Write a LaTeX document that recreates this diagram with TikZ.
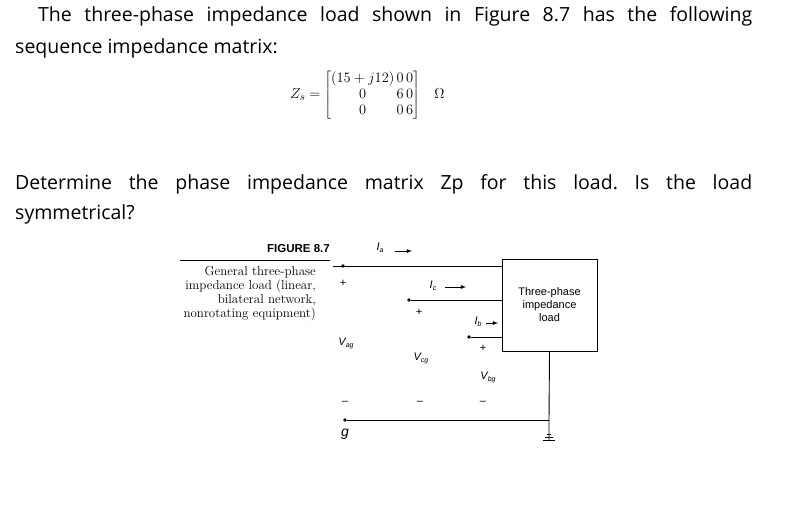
\documentclass[tikz,border=0pt]{standalone}
\usepackage{fontspec}
\setmainfont{Latin Modern Roman}
\newfontfamily\bodyfont{Open Sans}
\newfontfamily\figfont{Liberation Sans}
\newcommand{\sbs}[1]{\raisebox{-0.35ex}{\scriptsize #1}}
\frenchspacing
\begin{document}
\begin{tikzpicture}[x=1pt,y=-1pt,
  wire/.style={line width=0.9pt},
  dotn/.style={circle,fill,inner sep=1.4pt},
  lbl/.style={font=\figfont\fontsize{11}{12}\selectfont\itshape},
  sgn/.style={font=\figfont\fontsize{11}{12}\selectfont},
  cur/.style={-latex,line width=0.8pt}]
\useasboundingbox (0,0) rectangle (791,514);
% text
\node[anchor=west,inner sep=0] (t1) at (38,16) {\bodyfont\fontsize{19.5}{22}\selectfont\makebox[714pt][s]{The three-phase impedance load shown in Figure 8.7 has the following}};
\node[anchor=west,inner sep=0] (t2) at (15,48) {\bodyfont\fontsize{19.5}{22}\selectfont sequence impedance matrix:};
\node[anchor=west,inner sep=0] (t3) at (15,184) {\bodyfont\fontsize{19.5}{22}\selectfont\makebox[737pt][s]{Determine the phase impedance matrix Zp for this load. Is the load}};
\node[anchor=west,inner sep=0] (t4) at (15,214) {\bodyfont\fontsize{19.5}{22}\selectfont symmetrical?};
\node[anchor=west,inner sep=0] (mat) at (290,95) {\fontsize{15.5}{16}\selectfont$Z_{s}=\left[\begin{array}{@{}c@{\,}c@{\,}c@{}}(15+j12)&0&0\\0&6&0\\0&0&6\end{array}\right]\;\;\;\Omega$};
% caption
\node[anchor=east,inner sep=0,font=\figfont\bfseries\fontsize{11.5}{12}\selectfont] (fig) at (330,249) {FIGURE 8.7};
\draw[line width=0.5pt] (180,260) -- (330,260);
\node[anchor=north east,inner sep=0,align=right,font=\fontsize{13}{14}\selectfont] (cap) at (316,266) {General three-phase\\impedance load (linear,\\bilateral network,\\nonrotating equipment)};
% circuit
\node[draw,line width=0.9pt,minimum width=95pt,minimum height=92pt,align=center,font=\figfont\fontsize{11}{13}\selectfont] (box) at (549.5,305) {Three-phase\\impedance\\load};
\node[dotn] (da) at (343,266) {};
\node[dotn] (dc) at (409,300) {};
\node[dotn] (db) at (469,337) {};
\node[dotn] (dg) at (345,420) {};
\coordinate (la) at (333,266);
\coordinate (ga) at (549,420);
\draw[wire] (la) -- (box.west |- la);
\draw[wire] (dc) -- (box.west |- dc);
\draw[wire] (db) -- (box.west |- db);
\draw[wire] (dg) -- (ga);
\draw[wire] (box.south) -- (ga) -- ++(0,20) coordinate (gnd);
\draw[wire] ([xshift=-6pt]gnd) -- ([xshift=6pt]gnd);
\draw[wire] ([xshift=-4pt,yshift=3pt]gnd) -- ([xshift=4pt,yshift=3pt]gnd);
\draw[wire] ([xshift=-2pt,yshift=6pt]gnd) -- ([xshift=2pt,yshift=6pt]gnd);
% labels
\node[lbl] (ia) at (380,248) {I\sbs{a}};
\node[lbl] (ic) at (433,286) {I\sbs{c}};
\node[lbl] (ib) at (478,322) {I\sbs{b}};
\coordinate (ia1) at (395,251); \coordinate (ia2) at (412,251);
\coordinate (ic1) at (445,287); \coordinate (ic2) at (466,287);
\coordinate (ib1) at (486,323); \coordinate (ib2) at (498,323);
\draw[cur] (ia1) -- (ia2);
\draw[cur] (ic1) -- (ic2);
\draw[cur] (ib1) -- (ib2);
\node[sgn] (pa) at (343,283) {+};
\node[sgn] (pc) at (419,312) {+};
\node[sgn] (pb) at (483,348) {+};
\node[lbl] (vag) at (346,343) {V\sbs{ag}};
\node[lbl] (vcg) at (421,358) {V\sbs{cg}};
\node[lbl] (vbg) at (488,377) {V\sbs{bg}};
\node[sgn] (ma) at (345,403) {\textendash};
\node[sgn] (mc) at (420,403) {\textendash};
\node[sgn] (mb) at (483,403) {\textendash};
\node[lbl,font=\figfont\fontsize{14}{15}\selectfont\itshape] (g) at (345,434) {g};
\end{tikzpicture}
\end{document}
